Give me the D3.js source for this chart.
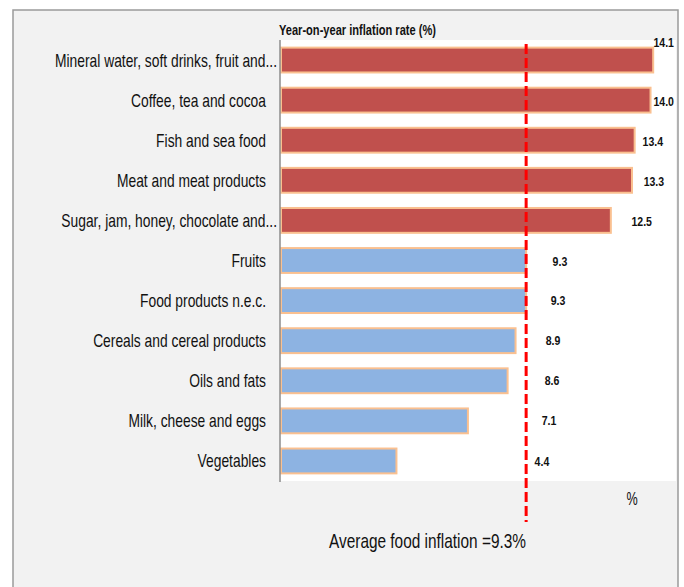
<!DOCTYPE html>
<html>
<head>
<meta charset="utf-8">
<script src="https://cdn.jsdelivr.net/npm/d3@7"></script>
<style>
  body { margin: 0; background: #ffffff; }
  svg { display: block; }
</style>
</head>
<body>
<div id="chart"></div>
<script>

// Chart size
const width = 684;
const height = 587;
const margin = {left: 280, right: 7, top: 40, bottom: 106};

// Data
const categories = [
  "Mineral water, soft drinks, fruit and...",
  "Coffee, tea and cocoa",
  "Fish and sea food",
  "Meat and meat products",
  "Sugar, jam, honey, chocolate and...",
  "Fruits",
  "Food products n.e.c.",
  "Cereals and cereal products",
  "Oils and fats",
  "Milk, cheese and eggs",
  "Vegetables"
];
const values = [14.1, 14.0, 13.4, 13.3, 12.5, 9.3, 9.3, 8.9, 8.6, 7.1, 4.4];
const averageInflation = 9.3;
const axisTitle = "Year-on-year inflation rate (%)";
const unitLabel = "%";
const averageLabel = "Average food inflation =9.3%";

// Where each value label sits (in axis units) and its vertical nudge
const labelX = [14.11, 14.11, 13.70, 13.74, 13.28, 10.30, 10.23, 10.04, 10.0, 9.89, 9.62];
const labelDy = [-18, 1, 1, 1, 1, 1, 0, 0, 0, -1, 0];

const font = "'Liberation Sans Narrow', 'Liberation Sans', Arial, sans-serif";

const svg = d3.select("#chart")
  .append("svg")
  .attr("width", width)
  .attr("height", height);

// Outer frame (grey chart area)
svg.append("rect")
  .attr("x", 13).attr("y", 10)
  .attr("width", 665).attr("height", 600)
  .attr("fill", "#f2f2f2")
  .attr("stroke", "#9a9a9a")
  .attr("stroke-width", 1.5);

// White plot area
svg.append("rect")
  .attr("x", margin.left).attr("y", margin.top)
  .attr("width", 676 - margin.left)
  .attr("height", 481 - margin.top)
  .attr("fill", "#ffffff");

// Scales
const xScale = d3.scaleLinear()
  .domain([0, 15])
  .range([margin.left, 677]);

const yScale = d3.scaleBand()
  .domain(d3.range(categories.length))
  .range([margin.top, 481])
  .paddingInner(0.38)
  .paddingOuter(0.19);

// squeeze a text to a wanted width (reference font is a narrow Calibri)
function squeeze(sel, factor) {
  sel.each(function() {
    const w = this.getComputedTextLength();
    d3.select(this)
      .attr("textLength", w * factor)
      .attr("lengthAdjust", "spacingAndGlyphs");
  });
}

// Bars
svg.selectAll(".bar")
  .data(values)
  .enter()
  .append("rect")
    .attr("class", "bar")
    .attr("x", xScale(0) + 1)
    .attr("y", (d, i) => yScale(i))
    .attr("width", d => xScale(d) - xScale(0) - 1)
    .attr("height", yScale.bandwidth())
    .attr("fill", (d, i) => i < 5 ? "#c0504d" : "#8db3e2")
    .attr("stroke", "#fac090")
    .attr("stroke-width", 2);

// Left axis line
svg.append("line")
  .attr("x1", xScale(0)).attr("x2", xScale(0))
  .attr("y1", margin.top).attr("y2", 482)
  .attr("stroke", "#8c8c8c")
  .attr("stroke-width", 1.5);

// Category labels
const catLabels = svg.selectAll(".cat")
  .data(categories)
  .enter()
  .append("text")
    .attr("class", "cat")
    .attr("x", d => d.endsWith("...") ? 277 : 266)
    .attr("y", (d, i) => yScale(i) + yScale.bandwidth() / 2)
    .attr("dy", "0.35em")
    .attr("text-anchor", "end")
    .attr("font-family", font)
    .attr("font-size", "18.5px")
    .attr("fill", "#111111")
    .text(d => d);

// fit the longest label to ~222px like the reference
const longest = catLabels.filter((d, i) => i === 0).node().getComputedTextLength();
squeeze(catLabels, 222 / longest);

// Value labels
const valLabels = svg.selectAll(".val")
  .data(values)
  .enter()
  .append("text")
    .attr("class", "val")
    .attr("x", (d, i) => xScale(labelX[i]))
    .attr("y", (d, i) => yScale(i) + yScale.bandwidth() / 2 + labelDy[i])
    .attr("dy", "0.35em")
    .attr("font-family", font)
    .attr("font-weight", "bold")
    .attr("font-size", "13.5px")
    .attr("fill", "#111111")
    .text(d => d.toFixed(1));
squeeze(valLabels, 0.78);

// Axis title
const title = svg.append("text")
  .attr("x", 279)
  .attr("y", 35)
  .attr("font-family", font)
  .attr("font-weight", "bold")
  .attr("font-size", "14.5px")
  .attr("fill", "#111111")
  .text(axisTitle);
squeeze(title, 157 / title.node().getComputedTextLength());

// Average line
svg.append("line")
  .attr("x1", xScale(averageInflation)).attr("x2", xScale(averageInflation))
  .attr("y1", 44).attr("y2", 522)
  .attr("stroke", "#ff0000")
  .attr("stroke-width", 3)
  .attr("stroke-dasharray", "10,4");

// Unit label
const unit = svg.append("text")
  .attr("x", 632)
  .attr("y", 505)
  .attr("text-anchor", "middle")
  .attr("font-family", font)
  .attr("font-size", "18px")
  .attr("fill", "#111111")
  .text(unitLabel);
squeeze(unit, 0.7);

// Average label
const avg = svg.append("text")
  .attr("x", 526)
  .attr("y", 548)
  .attr("text-anchor", "end")
  .attr("font-family", font)
  .attr("font-size", "21px")
  .attr("fill", "#111111")
  .text(averageLabel);
squeeze(avg, 197 / avg.node().getComputedTextLength());

</script>
</body>
</html>
